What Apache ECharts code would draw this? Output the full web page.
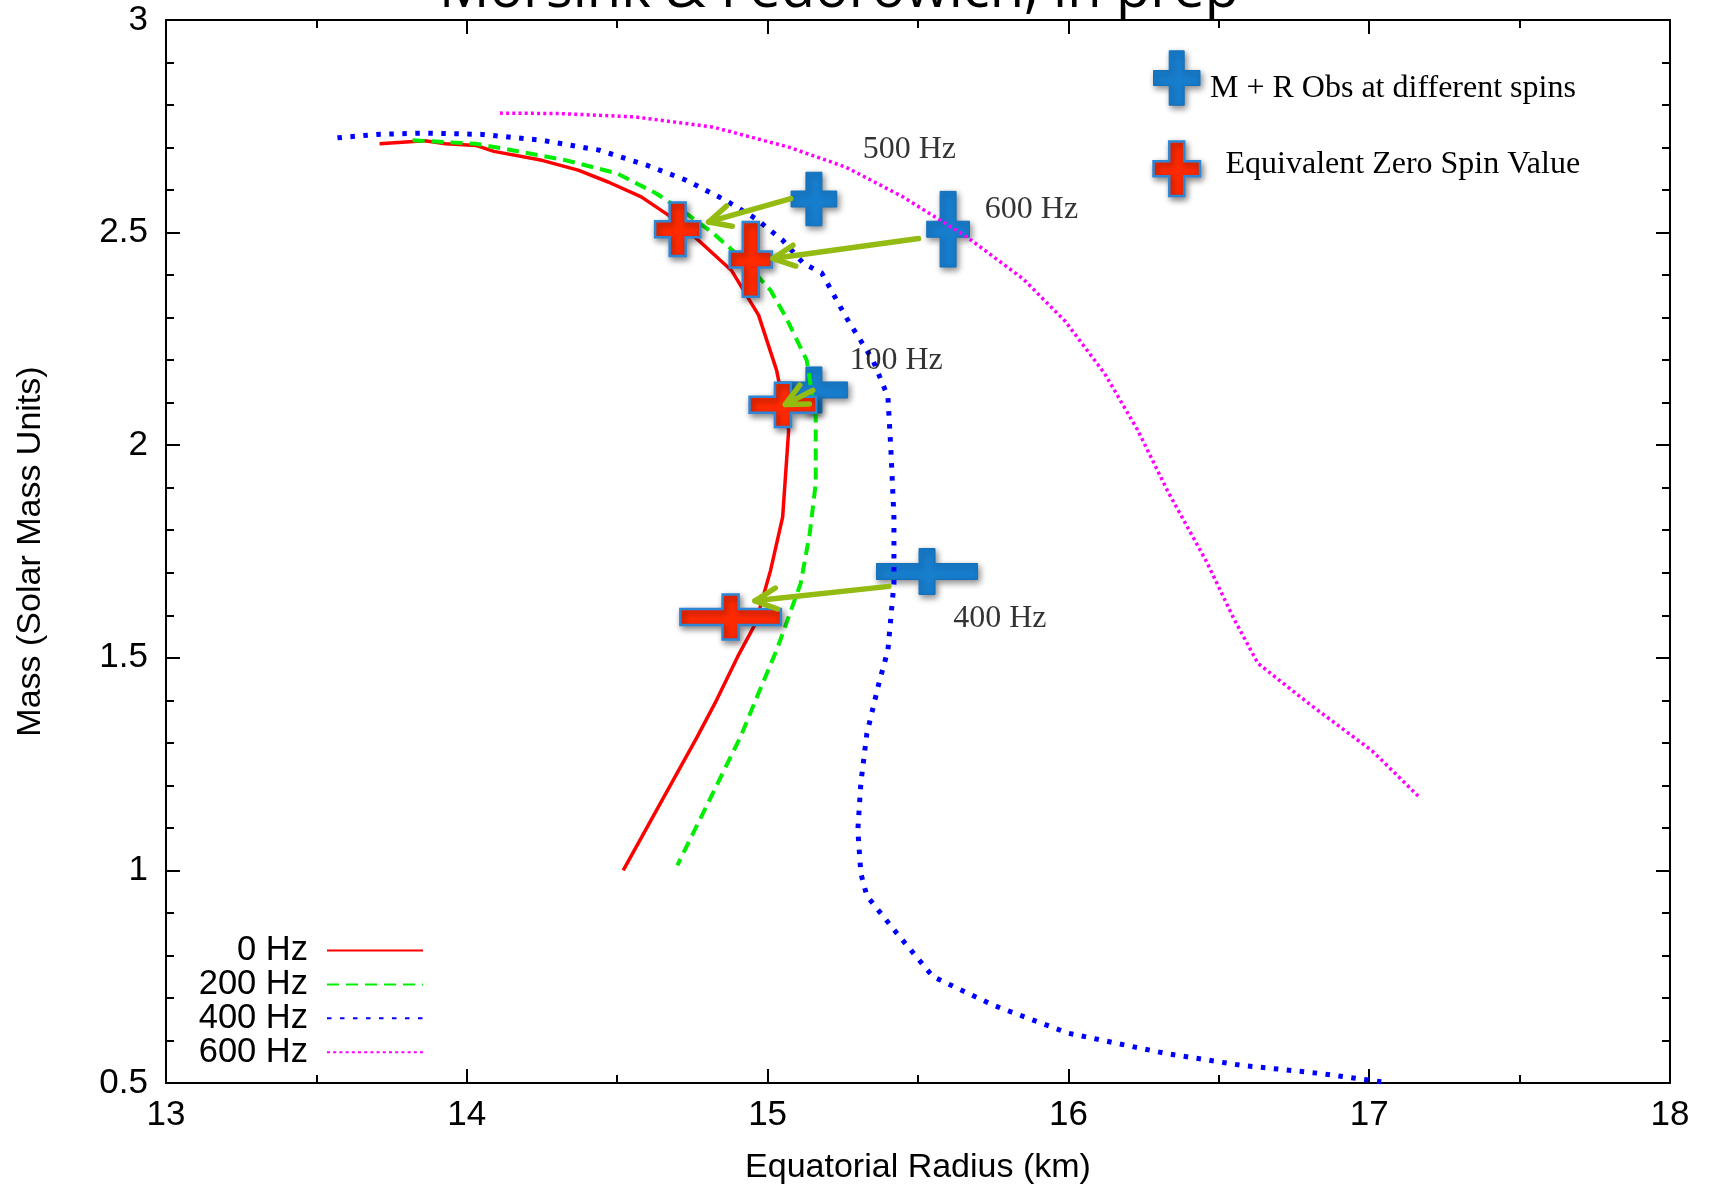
<!DOCTYPE html>
<html><head><meta charset="utf-8">
<script src="https://cdn.jsdelivr.net/npm/echarts@6/dist/echarts.min.js"></script>
<style>html,body{margin:0;padding:0;background:#fff}#c{width:1712px;height:1186px}</style>
</head><body><div id="c"></div>
<script>
// Mass-radius curves [equatorial radius (km), mass (Msun)]
const hz0 = [[13.71,2.709],[13.86,2.716],[13.93,2.709],[14.03,2.705],[14.09,2.691],[14.25,2.670],[14.37,2.647],[14.47,2.619],[14.58,2.584],[14.67,2.541],[14.77,2.482],[14.88,2.411],[14.97,2.306],[15.03,2.176],[15.07,2.035],[15.05,1.831],[15.01,1.706],[14.96,1.581],[14.90,1.502],[14.83,1.400],[14.765,1.313],[14.52,1.0]];
const hz200 = [[13.82,2.717],[14.03,2.709],[14.18,2.690],[14.33,2.670],[14.50,2.639],[14.63,2.592],[14.73,2.545],[14.82,2.498],[14.92,2.435],[15.01,2.364],[15.06,2.302],[15.13,2.200],[15.16,2.067],[15.16,1.910],[15.14,1.792],[15.11,1.675],[15.05,1.557],[15.03,1.518],[14.96,1.400],[14.91,1.314],[14.70,1.012]];
const hz400 = [[13.57,2.723],[13.70,2.731],[13.86,2.734],[14.05,2.731],[14.25,2.717],[14.44,2.694],[14.60,2.658],[14.73,2.623],[14.86,2.576],[14.96,2.533],[15.05,2.482],[15.12,2.427],[15.18,2.405],[15.26,2.302],[15.35,2.200],[15.40,2.114],[15.41,1.988],[15.42,1.831],[15.42,1.675],[15.40,1.518],[15.37,1.440],[15.33,1.322],[15.31,1.205],[15.30,1.095],[15.31,0.993],[15.33,0.940],[15.43,0.852],[15.55,0.750],[15.75,0.683],[16.00,0.617],[16.32,0.570],[16.57,0.542],[16.83,0.523],[17.04,0.503]];
const hz600 = [[14.11,2.781],[14.31,2.780],[14.56,2.772],[14.82,2.748],[15.07,2.701],[15.26,2.654],[15.45,2.584],[15.66,2.491],[15.85,2.391],[15.99,2.291],[16.12,2.169],[16.23,2.036],[16.33,1.892],[16.46,1.725],[16.55,1.592],[16.63,1.487],[16.80,1.392],[17.01,1.281],[17.17,1.170]];
const curveNames = ['0 Hz','200 Hz','400 Hz','600 Hz'];

// Crosses: [radius, mass, radius half-error, mass half-error]
const obsSpin = [[15.154,2.579,0.076,0.063],[15.600,2.508,0.071,0.089],[15.154,2.130,0.112,0.054],[15.530,1.703,0.168,0.054]];
const zeroSpin = [[14.701,2.508,0.075,0.063],[14.944,2.437,0.070,0.088],[15.051,2.095,0.111,0.052],[14.877,1.596,0.167,0.053]];
// Arrows: [fromR, fromM, toR, toM]
const arrows = [[15.077,2.580,14.804,2.525],[15.502,2.486,15.018,2.439],[15.150,2.129,15.059,2.096],[15.403,1.668,14.958,1.634]];
const spinLabels = ['500 Hz','600 Hz','100 Hz','400 Hz'];
const spinLabelR = [15.316,15.722,15.272,15.617];
const spinLabelM = [2.695,2.553,2.199,1.593];

const xTickLabels = ['13','14','15','16','17','18'];
const yTickLabels = ['0.5','1','1.5','2','2.5','3'];
const keyLabels = ['M + R Obs at different spins','Equivalent Zero Spin Value'];
const titleText = 'Morsink & Fedorowich, in prep';

const BLUE = '#177dcd', RED = '#ff2a00', ARROW = '#93bb12';
const SANS = '"Liberation Sans", Arial, Helvetica, sans-serif';
const SERIF = '"Liberation Serif", "Times New Roman", serif';

function plusPoints(cx, cy, lx, rx, ty, by, h) {
  return [[cx-h,ty],[cx+h,ty],[cx+h,cy-h],[rx,cy-h],[rx,cy+h],[cx+h,cy+h],[cx+h,by],[cx-h,by],[cx-h,cy+h],[lx,cy+h],[lx,cy-h],[cx-h,cy-h]];
}
const shadow = {shadowBlur: 6, shadowColor: 'rgba(0,0,0,0.45)', shadowOffsetX: 2, shadowOffsetY: 3};

function crossRenderer(fill, stroke, lw) {
  return function (params, api) {
    const x = api.value(0), y = api.value(1), ex = api.value(2), ey = api.value(3);
    const c = api.coord([x, y]), l = api.coord([x - ex, y]), r = api.coord([x + ex, y]);
    const t = api.coord([x, y + ey]), b = api.coord([x, y - ey]);
    return {type: 'polygon', shape: {points: plusPoints(c[0], c[1], l[0], r[0], t[1], b[1], 8)},
      style: Object.assign({fill: fill, stroke: stroke, lineWidth: lw}, shadow)};
  };
}
function arrowRenderer(params, api) {
  const p0 = api.coord([api.value(0), api.value(1)]);
  const p1 = api.coord([api.value(2), api.value(3)]);
  const ang = Math.atan2(p0[1] - p1[1], p0[0] - p1[0]);
  const L = 24, a = 26 * Math.PI / 180;
  const w1 = [p1[0] + L * Math.cos(ang + a), p1[1] + L * Math.sin(ang + a)];
  const w2 = [p1[0] + L * Math.cos(ang - a), p1[1] + L * Math.sin(ang - a)];
  const st = {stroke: ARROW, lineWidth: 5.5, lineCap: 'round', lineJoin: 'round', fill: null};
  return {type: 'group', children: [
    {type: 'line', shape: {x1: p0[0], y1: p0[1], x2: p1[0], y2: p1[1]}, style: st},
    {type: 'polyline', shape: {points: [w1, p1, w2]}, style: st}
  ]};
}

const axisCommon = {
  type: 'value', splitLine: {show: false},
  axisLine: {show: true, onZero: false, lineStyle: {color: '#000', width: 2}},
  axisTick: {show: true, inside: true, length: 14, lineStyle: {color: '#000', width: 2}},
  minorTick: {show: true, length: 8, lineStyle: {color: '#000', width: 2}}
};

const chart = echarts.init(document.getElementById('c'), null, {renderer: 'canvas'});
const option = {
  animation: false,
  backgroundColor: '#fff',
  grid: {left: 166, right: 42, top: 20, bottom: 103, containLabel: false, outerBoundsMode: 'none'},
  xAxis: [
    Object.assign({}, axisCommon, {position: 'bottom', min: 13, max: 18, interval: 1,
      minorTick: Object.assign({}, axisCommon.minorTick, {splitNumber: 2}),
      axisLabel: {color: '#000', fontFamily: SANS, fontSize: 35, margin: 15,
        formatter: v => xTickLabels[Math.round(v - 13)]},
      name: 'Equatorial Radius (km)', nameLocation: 'middle', nameGap: 68,
      nameTextStyle: {color: '#000', fontFamily: SANS, fontSize: 34}}),
    Object.assign({}, axisCommon, {position: 'top', min: 13, max: 18, interval: 1,
      minorTick: Object.assign({}, axisCommon.minorTick, {splitNumber: 2}),
      axisLabel: {show: false}})
  ],
  yAxis: [
    Object.assign({}, axisCommon, {position: 'left', min: 0.5, max: 3, interval: 0.5,
      minorTick: Object.assign({}, axisCommon.minorTick, {splitNumber: 5}),
      axisLabel: {color: '#000', fontFamily: SANS, fontSize: 35, margin: 18,
        formatter: v => yTickLabels[Math.round((v - 0.5) / 0.5)]},
      name: 'Mass (Solar Mass Units)', nameLocation: 'middle', nameGap: 118,
      nameTextStyle: {color: '#000', fontFamily: SANS, fontSize: 34}}),
    Object.assign({}, axisCommon, {position: 'right', min: 0.5, max: 3, interval: 0.5,
      minorTick: Object.assign({}, axisCommon.minorTick, {splitNumber: 5}),
      axisLabel: {show: false}})
  ],
  legend: {
    data: curveNames, orient: 'vertical', align: 'right', right: 1288, top: 933,
    padding: 0, itemWidth: 96, itemHeight: 20, itemGap: -1.1, selectedMode: false,
    itemStyle: {color: 'rgba(0,0,0,0)', borderWidth: 0, opacity: 0},
    textStyle: {color: '#000', fontFamily: SANS, fontSize: 34.5, lineHeight: 20, padding: [0, 14, 0, 0]}
  },
  series: [
    {type: 'custom', name: 'obs', z: 1, renderItem: crossRenderer(BLUE, '#1470bb', 1), data: obsSpin, silent: true},
    {type: 'line', name: curveNames[0], data: hz0, symbol: 'none', z: 2, lineStyle: {color: '#ff0000', width: 3.5}, itemStyle: {color: '#ff0000'}},
    {type: 'line', name: curveNames[1], data: hz200, symbol: 'none', z: 2, lineStyle: {color: '#00ee00', width: 4, type: [12, 7]}, itemStyle: {color: '#00ee00'}},
    {type: 'line', name: curveNames[2], data: hz400, symbol: 'none', z: 2, lineStyle: {color: '#0000ff', width: 5, type: [4.5, 8.5]}, itemStyle: {color: '#0000ff'}},
    {type: 'line', name: curveNames[3], data: hz600, symbol: 'none', z: 2, lineStyle: {color: '#ff00ff', width: 3.5, type: [3, 3.2]}, itemStyle: {color: '#ff00ff'}},
    {type: 'custom', name: 'zero', z: 3, renderItem: crossRenderer(RED, '#2e86d6', 2.5), data: zeroSpin, silent: true},
    {type: 'custom', name: 'arrows', z: 4, renderItem: arrowRenderer, data: arrows, silent: true},
    {type: 'scatter', name: 'spinLabels', z: 5, symbolSize: 0, silent: true,
      data: spinLabels.map((t, i) => ({name: t, value: [spinLabelR[i], spinLabelM[i]]})),
      label: {show: true, position: 'right', distance: 0, formatter: '{b}', color: '#000', fontFamily: SERIF, fontSize: 32}}
  ],
  graphic: [
    {type: 'text', x: 839, y: -9, z: 10,
      style: {text: titleText, fill: '#000', font: '400 56px "Open Sans", sans-serif', align: 'center', verticalAlign: 'middle'}},
    {type: 'polygon', z: 10, shape: {points: plusPoints(1176.7, 78, 1153.5, 1200, 50.8, 105.2, 7.5)},
      style: Object.assign({fill: BLUE, stroke: '#1470bb', lineWidth: 1}, shadow)},
    {type: 'polygon', z: 10, shape: {points: plusPoints(1176.7, 168.8, 1153.5, 1200, 141.6, 196, 7.5)},
      style: Object.assign({fill: RED, stroke: '#2e86d6', lineWidth: 2.5}, shadow)},
    {type: 'text', z: 10, x: 1210, y: 89, style: {text: keyLabels[0], fill: '#000', font: '32px ' + SERIF, align: 'left', verticalAlign: 'middle'}},
    {type: 'text', z: 10, x: 1225.5, y: 165, style: {text: keyLabels[1], fill: '#000', font: '32px ' + SERIF, align: 'left', verticalAlign: 'middle'}}
  ]
};
chart.setOption(option);
</script></body></html>
